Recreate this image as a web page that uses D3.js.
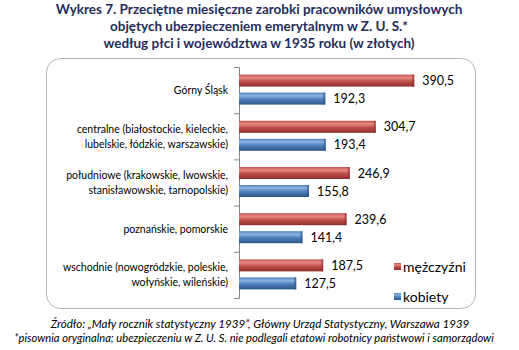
<!DOCTYPE html>
<html>
<head>
<meta charset="utf-8">
<script src="https://cdn.jsdelivr.net/npm/d3@7"></script>
<style>
  body { margin: 0; background: #fff; }
  svg { display: block; font-family: Lato, "Open Sans", sans-serif; }
</style>
</head>
<body>
<svg id="wykres" width="519" height="350"></svg>
<script>
// dane: przeciętne zarobki miesięczne (zł), 1935
const regiony = [
  ['Górny Śląsk'],
  ['centralne (białostockie, kieleckie,', 'lubelskie, łódzkie, warszawskie)'],
  ['południowe (krakowskie, lwowskie,', 'stanisławowskie, tarnopolskie)'],
  ['poznańskie, pomorskie'],
  ['wschodnie (nowogródzkie, poleskie,', 'wołyńskie, wileńskie)']
];
const mezczyzni = [390.5, 304.7, 246.9, 239.6, 187.5];
const kobiety = [192.3, 193.4, 155.8, 141.4, 127.5];
const serie = ['mężczyźni', 'kobiety'];
const kolory = {'mężczyźni': ['#e88a87', '#c0504d', '#8e2f2c'], 'kobiety': ['#8db3e2', '#4f81bd', '#2c5586']};

const tytul = [
  'Wykres 7. Przeciętne miesięczne  zarobki pracowników umysłowych',
  'objętych ubezpieczeniem emerytalnym w Z. U. S.*',
  'według płci i województwa w 1935 roku (w złotych)'
];
const zrodlo = [
  'Źródło: „Mały rocznik statystyczny 1939”, Główny Urząd Statystyczny, Warszawa 1939',
  '*pisownia oryginalna; ubezpieczeniu w Z. U. S. nie podlegali etatowi robotnicy państwowi i samorządowi'
];

const svg = d3.select('#wykres');

// gradienty "walcowe" dla słupków
const defs = svg.append('defs');
serie.forEach((s, i) => {
  const g = defs.append('linearGradient').attr('id', 'grad' + i)
    .attr('x1', 0).attr('x2', 0).attr('y1', 0).attr('y2', 1);
  g.append('stop').attr('offset', '0%').attr('stop-color', kolory[s][1]);
  g.append('stop').attr('offset', '25%').attr('stop-color', kolory[s][0]);
  g.append('stop').attr('offset', '55%').attr('stop-color', kolory[s][1]);
  g.append('stop').attr('offset', '100%').attr('stop-color', kolory[s][2]);
});

// tytuł
svg.append('g').selectAll('text').data(tytul).enter().append('text')
  .attr('x', 259).attr('y', (d, i) => 14 + i * 17)
  .attr('text-anchor', 'middle')
  .style('font-size', '13.5px').style('font-weight', 'bold').style('fill', '#1f2d5c')
  .text(d => d);

// ramka wykresu
svg.append('rect')
  .attr('x', 46.5).attr('y', 58.5).attr('width', 429).attr('height', 250)
  .attr('rx', 14).attr('ry', 14)
  .style('fill', '#fff').style('stroke', '#b5b5b5');

const x = d3.scaleLinear().domain([0, 450]).range([239, 441]);
const y = d3.scaleBand().domain(d3.range(regiony.length)).range([67, 298]);

// oś kategorii z podziałkami
const osY = svg.append('g').attr('transform', 'translate(239,0)')
  .call(d3.axisLeft(d3.scaleLinear().domain([0, 5]).range([67, 298])).ticks(5).tickSize(5).tickFormat(''));
osY.selectAll('path, line').style('stroke', '#868686');
osY.select('.domain').attr('d', 'M-5,67.5H0.5V298.5H-5');

// etykiety kategorii
const etykiety = svg.append('g');
regiony.forEach((linie, i) => {
  const srodek = y(i) + y.bandwidth() / 2;
  etykiety.append('text')
    .attr('x', 228)
    .attr('text-anchor', 'end')
    .style('font-size', '10.5px').style('fill', '#000')
    .selectAll('tspan').data(linie).enter().append('tspan')
    .attr('x', 228)
    .attr('y', (d, j) => srodek + 4 + (j - (linie.length - 1) / 2) * 15)
    .text(d => d);
});

// słupki
const dane = [mezczyzni, kobiety];
const wys = 12;
const przes = [-9.5, 8.5];
dane.forEach((wartosci, s) => {
  const g = svg.append('g');
  g.selectAll('rect').data(wartosci).enter().append('rect')
    .attr('x', x(0))
    .attr('y', (d, i) => y(i) + y.bandwidth() / 2 + przes[s] - wys / 2)
    .attr('width', d => x(d) - x(0))
    .attr('height', wys)
    .style('fill', `url(#grad${s})`);
  // ciemniejsze zakończenie słupka
  g.selectAll('.koniec').data(wartosci).enter().append('rect')
    .attr('x', d => x(d) - 2)
    .attr('y', (d, i) => y(i) + y.bandwidth() / 2 + przes[s] - wys / 2)
    .attr('width', 2).attr('height', wys)
    .style('fill', kolory[serie[s]][2]).style('opacity', 0.6);
  g.selectAll('text').data(wartosci).enter().append('text')
    .attr('x', d => x(d) + 8)
    .attr('y', (d, i) => y(i) + y.bandwidth() / 2 + przes[s] + 4.5)
    .style('font-size', '12.5px').style('fill', '#000')
    .text(d => d.toFixed(1).replace('.', ','));
});

// legenda
const leg = svg.append('g').selectAll('g').data(serie).enter().append('g')
  .attr('transform', (d, i) => `translate(394,${263 + i * 30})`);
leg.append('rect').attr('width', 7).attr('height', 7)
  .style('fill', (d, i) => `url(#grad${i})`);
leg.append('text').attr('x', 9).attr('y', 8.5)
  .style('font-size', '14px').style('fill', '#000')
  .text(d => d);

// źródło
svg.append('g').selectAll('text').data(zrodlo).enter().append('text')
  .attr('x', (d, i) => i ? 254 : 260).attr('y', (d, i) => 328 + i * 14)
  .attr('text-anchor', 'middle')
  .style('font-size', (d, i) => i ? '11.2px' : '11.6px')
  .style('font-style', 'italic').style('fill', '#000')
  .text(d => d);
</script>
</body>
</html>
